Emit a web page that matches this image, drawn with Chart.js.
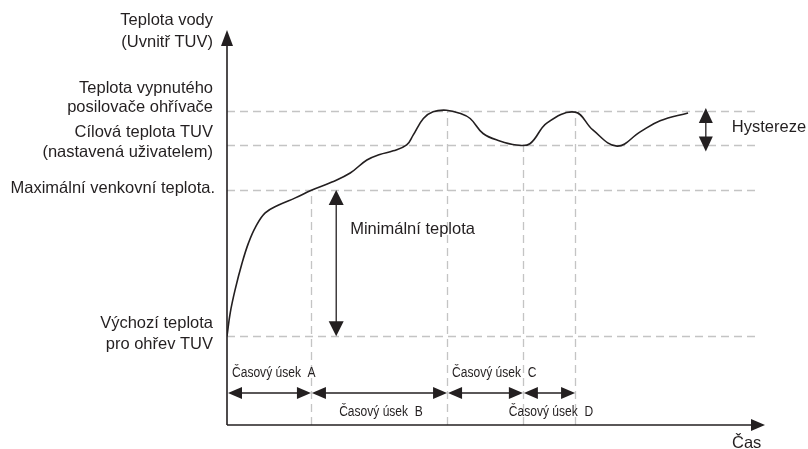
<!DOCTYPE html>
<html>
<head>
<meta charset="utf-8">
<script src="https://cdn.jsdelivr.net/npm/chart.js@4/dist/chart.umd.min.js"></script>
<style>
  html, body { margin: 0; padding: 0; background: #fff; }
  #wrap { width: 808px; height: 449px; position: relative; }
</style>
</head>
<body>
<div id="wrap"><canvas id="c"></canvas></div>
<script>
// průběh teploty vody (čas, teplota) – schéma, jednotky 0..100
const curveTime = [0, 0.6, 1.5, 2.8, 4.0, 5.3, 7.1, 9.6, 12.7, 15.8, 19.5, 22.9, 26.0, 28.4, 30.9, 33.4, 34.6, 36.5, 38.3, 40.8, 43.3, 45.2, 47.6, 50.7, 53.8, 56.3, 59.5, 64.7, 68.0, 72.5, 76.8, 80.5, 85.7];
const curveTemp = [22.5, 28.4, 34.2, 41.0, 46.1, 50.1, 53.7, 55.7, 57.5, 59.5, 61.5, 63.8, 67.1, 68.5, 69.4, 70.9, 73.4, 77.6, 79.3, 79.7, 78.9, 77.6, 73.8, 71.9, 70.9, 71.2, 76.5, 79.2, 74.7, 70.6, 74.2, 77.0, 79.0];

// hladiny teplot: výchozí, max. venkovní, cílová, vypnutí posilovače
const levelStart = 22.5;
const levelOutdoor = 59.5;
const levelTarget = 71;
const levelBooster = 79.5;

// hranice časových úseků A..D
const segmentBounds = [0, 15.6, 40.9, 55.0, 64.7];
const segmentNames = ["A", "B", "C", "D"];
const segmentTops = [levelOutdoor, levelBooster, levelTarget, levelBooster];

const INK = "#231f20";
const DASH = "#c4c4c4";
const FONT = "16.5px 'Liberation Sans', Arial, sans-serif";
const SMALL = "14px 'Liberation Sans', Arial, sans-serif";

function head(ctx, x, y, dx, dy, len, half) {
  // trojúhelník se špičkou v (x,y), směr (dx,dy)
  ctx.beginPath();
  ctx.moveTo(x, y);
  ctx.lineTo(x - dx * len - dy * half, y - dy * len + dx * half);
  ctx.lineTo(x - dx * len + dy * half, y - dy * len - dx * half);
  ctx.closePath();
  ctx.fill();
}

function line(ctx, x1, y1, x2, y2) {
  ctx.beginPath();
  ctx.moveTo(x1, y1);
  ctx.lineTo(x2, y2);
  ctx.stroke();
}

function narrowText(ctx, text, x, y, align) {
  const sx = 0.86;
  ctx.save();
  ctx.translate(x, y);
  ctx.scale(sx, 1);
  ctx.textAlign = align;
  ctx.fillText(text, 0, 0);
  ctx.restore();
}

const diagram = {
  id: "diagram",
  beforeDatasetsDraw(chart) {
    const { ctx, scales: { x, y } } = chart;
    ctx.save();
    ctx.strokeStyle = DASH;
    ctx.lineWidth = 1.3;
    ctx.setLineDash([8, 5]);
    const x0 = x.getPixelForValue(0);
    const xEnd = x.getPixelForValue(98.3);
    for (const lv of [levelStart, levelOutdoor, levelTarget, levelBooster]) {
      const py = Math.round(y.getPixelForValue(lv)) + 0.5;
      line(ctx, x0, py, xEnd, py);
    }
    for (let i = 1; i < segmentBounds.length; i++) {
      const px = Math.round(x.getPixelForValue(segmentBounds[i])) + 0.5;
      line(ctx, px, y.getPixelForValue(0), px, y.getPixelForValue(segmentTops[i - 1]));
    }
    ctx.restore();
  },
  afterDatasetsDraw(chart) {
    const { ctx, chartArea: a, scales: { x, y } } = chart;
    ctx.save();
    ctx.strokeStyle = INK;
    ctx.fillStyle = INK;
    ctx.lineWidth = 1.6;
    ctx.setLineDash([]);

    // osy
    const ox = x.getPixelForValue(0);
    const oy = y.getPixelForValue(0);
    line(ctx, ox, oy, ox, a.top + 10);
    head(ctx, ox, a.top, 0, -1, 16, 6);
    line(ctx, ox, oy, a.right - 10, oy);
    head(ctx, a.right, oy, 1, 0, 14, 6);

    // minimální teplota
    ctx.lineWidth = 1.3;
    const mx = x.getPixelForValue(20.3);
    const mTop = y.getPixelForValue(levelOutdoor);
    const mBot = y.getPixelForValue(levelStart);
    line(ctx, mx, mTop + 10, mx, mBot - 10);
    head(ctx, mx, mTop, 0, -1, 15, 7.5);
    head(ctx, mx, mBot, 0, 1, 15, 7.5);

    // hystereze
    const hx = x.getPixelForValue(89.0);
    const hTop = y.getPixelForValue(levelBooster) - 3;
    const hBot = y.getPixelForValue(levelTarget) + 7;
    line(ctx, hx, hTop + 10, hx, hBot - 10);
    head(ctx, hx, hTop, 0, -1, 15, 7);
    head(ctx, hx, hBot, 0, 1, 15, 7);

    // časové úseky
    const ty = oy - 32;
    for (let i = 0; i < segmentNames.length; i++) {
      const x1 = x.getPixelForValue(segmentBounds[i]);
      const x2 = x.getPixelForValue(segmentBounds[i + 1]);
      line(ctx, x1 + 8, ty, x2 - 8, ty);
      head(ctx, x1 + 1, ty, -1, 0, 14, 6);
      head(ctx, x2, ty, 1, 0, 14, 6);
    }

    // texty
    ctx.textBaseline = "middle";
    ctx.font = FONT;
    ctx.textAlign = "right";
    const lx = ox - 14;
    const top = a.top;
    ctx.fillText("Teplota vody", lx, top - 10);
    ctx.fillText("(Uvnitř TUV)", lx, top + 12);
    const yb = y.getPixelForValue(levelBooster);
    ctx.fillText("Teplota vypnutého", lx, yb - 23);
    ctx.fillText("posilovače ohřívače", lx, yb - 4);
    const yt = y.getPixelForValue(levelTarget);
    ctx.fillText("Cílová teplota TUV", lx, yt - 12);
    ctx.fillText("(nastavená uživatelem)", lx, yt + 8);
    const yo = y.getPixelForValue(levelOutdoor);
    ctx.fillText("Maximální venkovní teplota.", lx + 2, yo - 2);
    const ys = y.getPixelForValue(levelStart);
    ctx.fillText("Výchozí teplota", lx, ys - 13);
    ctx.fillText("pro ohřev TUV", lx, ys + 8);

    ctx.textAlign = "left";
    ctx.fillText("Minimální teplota", mx + 14, y.getPixelForValue(49.4));
    ctx.fillText("Hystereze", hx + 26, (yb + yt) / 2);
    ctx.fillText("Čas", a.right - 33, oy + 18);

    ctx.font = SMALL;
    for (let i = 0; i < segmentNames.length; i++) {
      const label = "Časový úsek  " + segmentNames[i];
      const x1 = x.getPixelForValue(segmentBounds[i]);
      const x2 = x.getPixelForValue(segmentBounds[i + 1]);
      if (i % 2 === 0) {
        narrowText(ctx, label, x1 + 5, ty - 20, "left");
      } else {
        narrowText(ctx, label, (x1 + x2) / 2 + 2, ty + 19, "center");
      }
    }
    ctx.restore();
  },
};

new Chart(document.getElementById("c"), {
  type: "line",
  data: {
    datasets: [
      {
        data: curveTime.map((t, i) => ({ x: t, y: curveTemp[i] })),
        borderColor: INK,
        borderWidth: 1.6,
        pointRadius: 0,
        fill: false,
        tension: 0.4,
      },
    ],
  },
  options: {
    responsive: true,
    maintainAspectRatio: false,
    animation: false,
    layout: { padding: { left: 227, right: 43, top: 30, bottom: 24 } },
    plugins: { legend: { display: false }, tooltip: { enabled: false } },
    scales: {
      x: { type: "linear", min: 0, max: 100, display: false },
      y: { min: 0, max: 100, display: false },
    },
  },
  plugins: [diagram],
});
</script>
</body>
</html>
